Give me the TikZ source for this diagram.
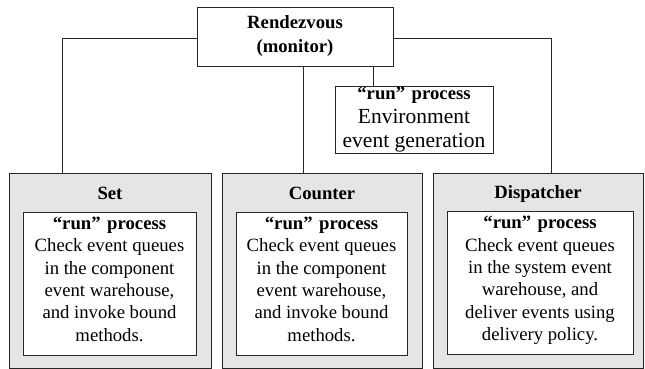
\documentclass[tikz,border=0pt]{standalone}
\usepackage{fontspec}
\setmainfont{Liberation Serif}
\newcommand{\lastline}{\rule[-9pt]{0pt}{0pt}}
\begin{document}
\begin{tikzpicture}[x=1pt,y=-1pt,
  line/.style={draw=black!85,line width=0.9pt},
  box/.style={line,rectangle,inner sep=0pt,align=center},
  body/.style={font=\fontsize{18.7}{22.4}\selectfont},
  envbody/.style={font=\fontsize{21.5}{24}\selectfont},
  head/.style={font=\fontsize{18.7}{24}\selectfont\bfseries},
  outer/.style={box,fill=black!10},
  inner/.style={box,fill=white,body}]
\useasboundingbox (0,0) rectangle (645,369);

% monitor at the top
\node[box,head,minimum width=196pt,minimum height=59pt] (rdv) at (295,36.5)
  {Rendezvous\\(monitor)};

% environment process
\node[box,envbody,minimum width=158pt,minimum height=67pt] (env) at (414,119.5)
  {\fontsize{18.7}{24}\selectfont\textbf{“run”\hspace{0.35em}process}\\Environment\\event generation};

% component outer boxes
\node[outer,minimum width=202pt,minimum height=195pt] (set) at (110,270.5) {};
\node[outer,minimum width=200pt,minimum height=195pt] (cnt) at (322,270.5) {};
\node[outer,minimum width=210pt,minimum height=195pt] (disp) at (538,270.5) {};

\node[head] (setlbl) at ([yshift=-21pt]set.north) {Set};
\node[head] (cntlbl) at ([yshift=-21pt]cnt.north) {Counter};
\node[head] (displbl) at ([yshift=-21pt]disp.north) {Dispatcher};

% run processes inside each component
\node[inner,minimum width=173pt,minimum height=143pt] (setrun) at (109.5,283.5)
  {\textbf{“run”\hspace{0.35em}process}\\Check event queues\\in the component\\event warehouse,\\and invoke bound\\methods.\lastline};
\node[inner,minimum width=171pt,minimum height=143pt] (cntrun) at (321.5,283.5)
  {\textbf{“run”\hspace{0.35em}process}\\Check event queues\\in the component\\event warehouse,\\and invoke bound\\methods.\lastline};
\node[inner,minimum width=186pt,minimum height=143pt] (disprun) at (540,283)
  {\textbf{“run”\hspace{0.35em}process}\\Check event queues\\in the system event\\warehouse, and\\deliver events using\\delivery policy.\lastline};

% connectors from the monitor
\draw[line] ([yshift=-1.5pt]rdv.west) -| ([xshift=54pt]set.north west);
\draw[line] ([yshift=-1.5pt]rdv.east) -| ([xshift=119pt]disp.north west);
\draw[line] ([xshift=82pt]cnt.north west) -- ([xshift=82pt]cnt.north west |- rdv.south);
\draw[line] ([xshift=39pt]env.north west) -- ([xshift=39pt]env.north west |- rdv.south);
\end{tikzpicture}
\end{document}
